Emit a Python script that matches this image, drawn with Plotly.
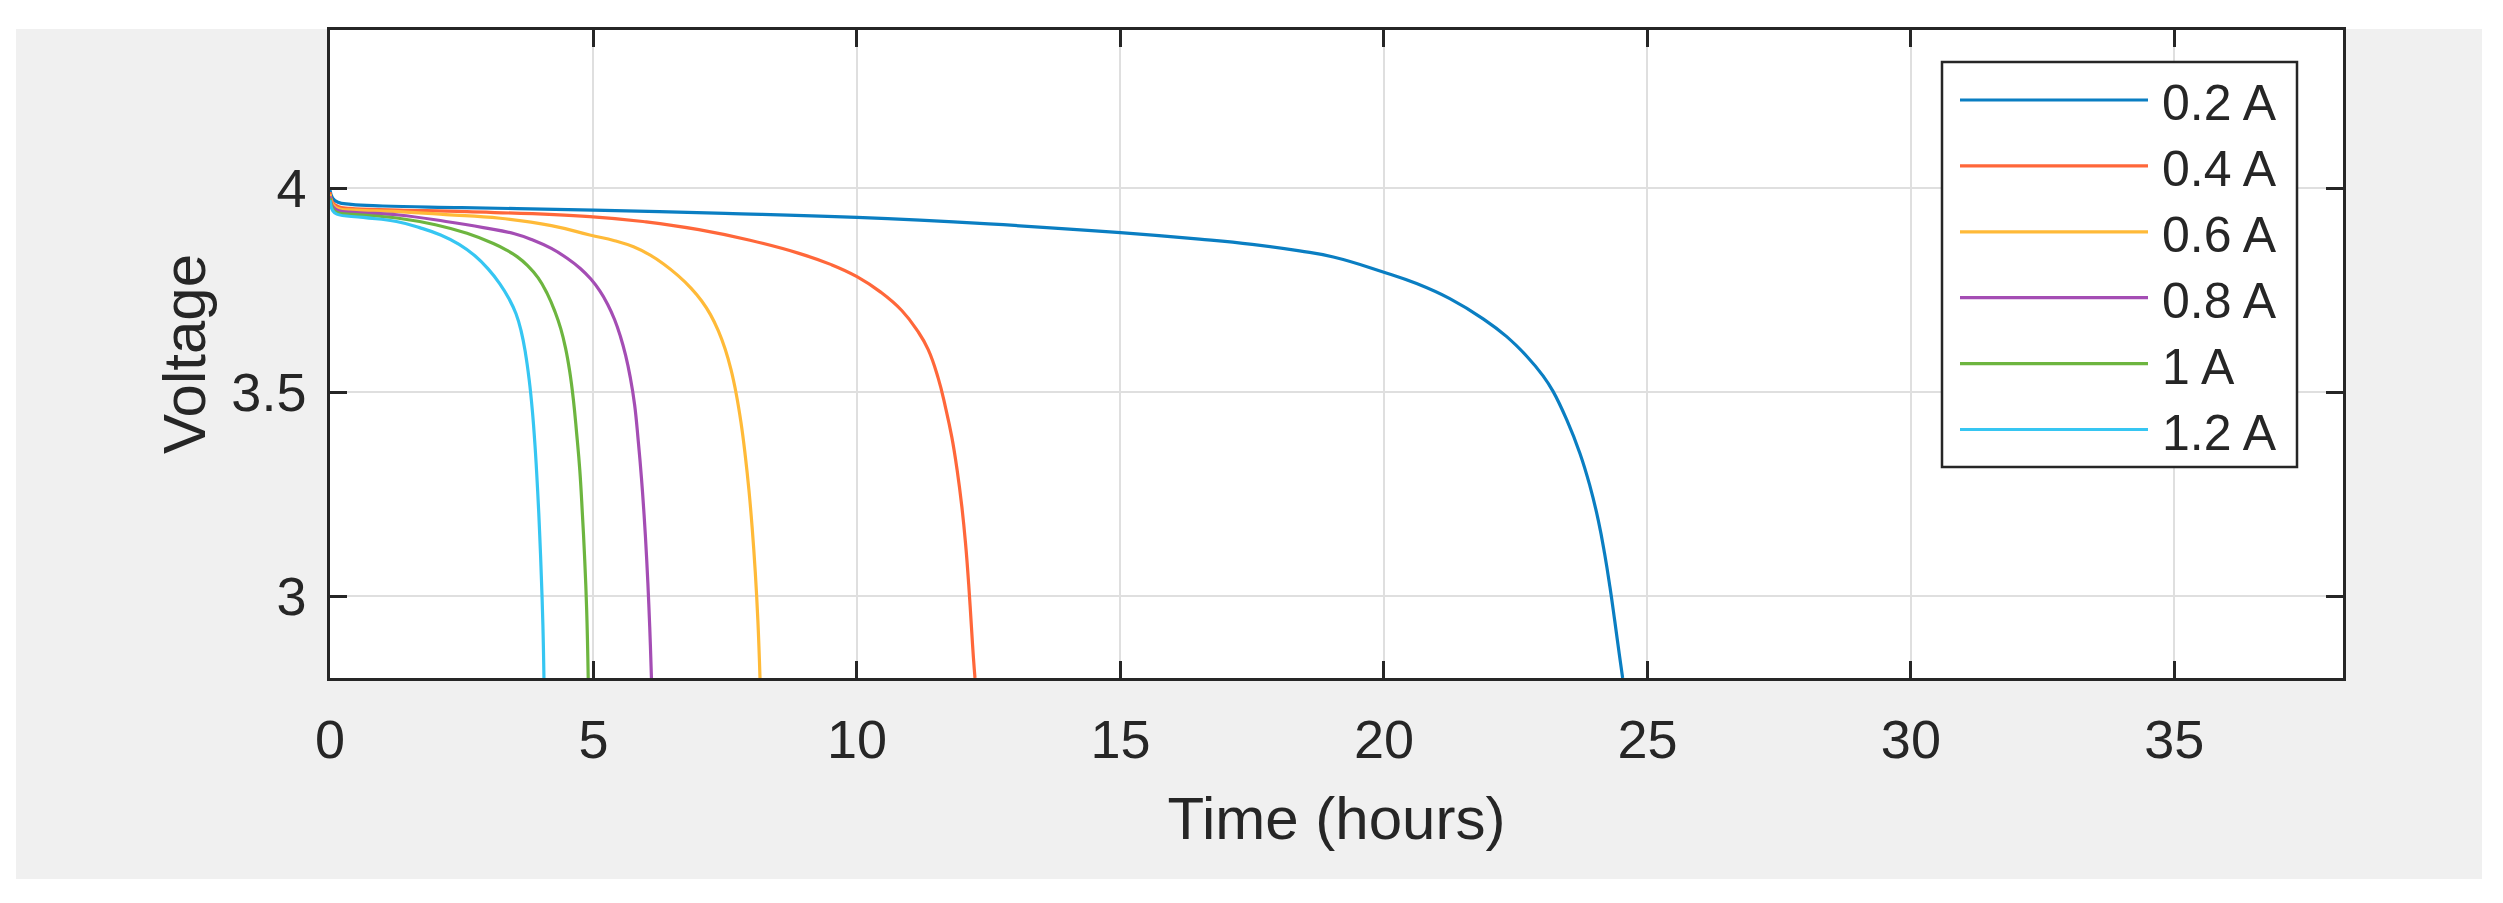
import plotly.graph_objects as go

# ---------------- data ----------------
labels = ["0.2 A", "0.4 A", "0.6 A", "0.8 A", "1 A", "1.2 A"]
colors = ["#0A7EC2", "#FF673A", "#FFBA38", "#A44DB4", "#6DB53F", "#36C6F2"]

t_02 = [0, 0.05, 0.15, 0.4, 1.0, 2.5, 5.0, 7.5, 10.0, 12.5, 15.0, 16.5, 17.5, 18.4,
        19.04, 19.97, 20.62, 21.25, 21.89, 22.33, 22.71, 23.02, 23.21, 23.47, 23.72,
        23.91, 24.07, 24.19, 24.29, 24.38, 24.47, 24.53]
v_02 = [3.995, 3.975, 3.965, 3.96, 3.956, 3.952, 3.946, 3.938, 3.928, 3.912, 3.891,
        3.875, 3.862, 3.846, 3.831, 3.795, 3.766, 3.729, 3.679, 3.636, 3.588, 3.540,
        3.502, 3.432, 3.350, 3.270, 3.185, 3.103, 3.022, 2.940, 2.855, 2.8]

t_04 = [0, 0.05, 0.15, 0.38, 1.3, 2.6, 4.93, 6.0, 7.0, 7.97, 8.9, 9.5, 10.0, 10.45,
        10.85, 11.15, 11.35, 11.54, 11.68, 11.8, 11.9, 11.99, 12.06, 12.12, 12.17,
        12.21, 12.24]
v_04 = [3.99, 3.965, 3.955, 3.95, 3.946, 3.942, 3.93, 3.917, 3.898, 3.872, 3.84,
        3.813, 3.783, 3.745, 3.70, 3.65, 3.605, 3.535, 3.463, 3.39, 3.31, 3.22, 3.13,
        3.03, 2.93, 2.85, 2.8]

t_06 = [0, 0.05, 0.15, 0.5, 1.3, 2.2, 3.23, 4.2, 4.93, 5.4, 5.76, 6.07, 6.33, 6.6,
        6.85, 7.05, 7.22, 7.37, 7.5, 7.61, 7.71, 7.8, 7.88, 7.95, 8.01, 8.07, 8.12,
        8.16]
v_06 = [3.985, 3.96, 3.95, 3.946, 3.942, 3.935, 3.926, 3.908, 3.885, 3.871, 3.856,
        3.836, 3.814, 3.786, 3.755, 3.724, 3.69, 3.65, 3.605, 3.555, 3.495, 3.425,
        3.345, 3.26, 3.17, 3.06, 2.94, 2.8]

t_08 = [0, 0.05, 0.15, 0.5, 1.3, 2.2, 2.91, 3.5, 3.86, 4.2, 4.5, 4.75, 4.95, 5.12,
        5.27, 5.4, 5.51, 5.61, 5.7, 5.78, 5.85, 5.91, 5.96, 6.01, 6.05, 6.08, 6.1]
v_08 = [3.98, 3.955, 3.945, 3.94, 3.934, 3.918, 3.903, 3.888, 3.872, 3.852, 3.828,
        3.803, 3.777, 3.748, 3.715, 3.678, 3.637, 3.59, 3.535, 3.47, 3.38, 3.29, 3.2,
        3.09, 2.98, 2.88, 2.8]

t_10 = [0, 0.05, 0.13, 0.5, 1.3, 2.0, 2.6, 3.1, 3.35, 3.55, 3.75, 3.95, 4.12, 4.27,
        4.38, 4.47, 4.55, 4.62, 4.68, 4.74, 4.79, 4.83, 4.87, 4.9]
v_10 = [3.975, 3.95, 3.94, 3.935, 3.926, 3.91, 3.889, 3.864, 3.848, 3.832, 3.81,
        3.78, 3.742, 3.697, 3.655, 3.608, 3.55, 3.48, 3.40, 3.31, 3.20, 3.10, 2.97, 2.8]

t_12 = [0, 0.05, 0.13, 0.63, 1.26, 1.7, 2.1, 2.45, 2.75, 3.0, 3.22, 3.4, 3.53, 3.63,
        3.71, 3.78, 3.84, 3.89, 3.94, 3.98, 4.01, 4.04, 4.06]
v_12 = [3.97, 3.945, 3.936, 3.928, 3.918, 3.903, 3.885, 3.862, 3.834, 3.802, 3.766,
        3.728, 3.692, 3.648, 3.595, 3.53, 3.455, 3.37, 3.26, 3.15, 3.05, 2.93, 2.80]

x_title = "Time (hours)"
y_title = "Voltage"
x_range = [0, 38.2]
y_range = [2.8, 4.387]

times = [t_02, t_04, t_06, t_08, t_10, t_12]
volts = [v_02, v_04, v_06, v_08, v_10, v_12]

# ---------------- figure ----------------
W, H = 2503, 903
L, R, T, B = 330, 160, 30, 225
pw, ph = W - L - R, H - T - B
FONT = "Liberation Sans, Arial, Helvetica, sans-serif"
AXC = "#262626"


def px_x(X):
    return (X - L) / pw


def px_y(Y):
    return (H - B - Y) / ph


fig = go.Figure()
for t, v, c, name in zip(times, volts, colors, labels):
    fig.add_trace(go.Scatter(x=t, y=v, mode="lines", name=name, showlegend=False,
                             line=dict(color=c, width=3.2, shape="spline",
                                       smoothing=1.3, simplify=False)))

shapes = [
    # grey figure panel
    dict(type="rect", xref="paper", yref="paper", layer="below",
         x0=px_x(16), x1=px_x(2482), y0=px_y(879), y1=px_y(29),
         fillcolor="#F0F0F0", line=dict(width=0)),
    # white axes background
    dict(type="rect", xref="paper", yref="paper", layer="below",
         x0=0, x1=1, y0=0, y1=1, fillcolor="white", line=dict(width=0)),
]

# legend drawn with long sample lines like the original
box_x0, box_x1, box_y0, box_y1 = 1942, 2297, 62, 467
shapes.append(dict(type="rect", xref="paper", yref="paper", layer="above",
                   x0=px_x(box_x0), x1=px_x(box_x1), y0=px_y(box_y1), y1=px_y(box_y0),
                   fillcolor="white", line=dict(color=AXC, width=2.5)))
row0, row_step = 100, 65.9
annotations = []
for i, (c, name) in enumerate(zip(colors, labels)):
    yy = row0 + i * row_step
    shapes.append(dict(type="line", xref="paper", yref="paper", layer="above",
                       x0=px_x(1960), x1=px_x(2148), y0=px_y(yy), y1=px_y(yy),
                       line=dict(color=c, width=3.2)))
    annotations.append(dict(xref="paper", yref="paper", x=px_x(2160), y=px_y(yy + 3),
                            xanchor="left", yanchor="middle", showarrow=False,
                            text=name, font=dict(family=FONT, size=50, color=AXC)))

fig.update_layout(
    width=W, height=H,
    margin=dict(l=L, r=R, t=T, b=B, pad=0),
    paper_bgcolor="white", plot_bgcolor="rgba(0,0,0,0)",
    font=dict(family=FONT, color=AXC),
    shapes=shapes, annotations=annotations,
    showlegend=False,
)
fig.update_xaxes(
    range=x_range, dtick=5, tick0=0, showgrid=True, gridcolor="#DFDFDF", gridwidth=2,
    zeroline=False, showline=True, linecolor=AXC, linewidth=2.5, mirror="ticks",
    ticks="inside", ticklen=17, tickwidth=2.5, tickcolor=AXC,
    tickfont=dict(family=FONT, size=54, color=AXC), ticklabelstandoff=12,
    title=dict(text=x_title, font=dict(family=FONT, size=60, color=AXC), standoff=30),
)
fig.update_yaxes(
    range=y_range, dtick=0.5, tick0=3, showgrid=True, gridcolor="#DFDFDF", gridwidth=2,
    zeroline=False, showline=True, linecolor=AXC, linewidth=2.5, mirror="ticks",
    ticks="inside", ticklen=17, tickwidth=2.5, tickcolor=AXC,
    tickfont=dict(family=FONT, size=54, color=AXC), ticklabelstandoff=10,
    title=dict(text=y_title, font=dict(family=FONT, size=60, color=AXC), standoff=7),
)

fig.write_html(
    "out.html",
    config={"displayModeBar": False},
    post_script="document.body.style.margin='0';document.body.style.padding='0';",
)
